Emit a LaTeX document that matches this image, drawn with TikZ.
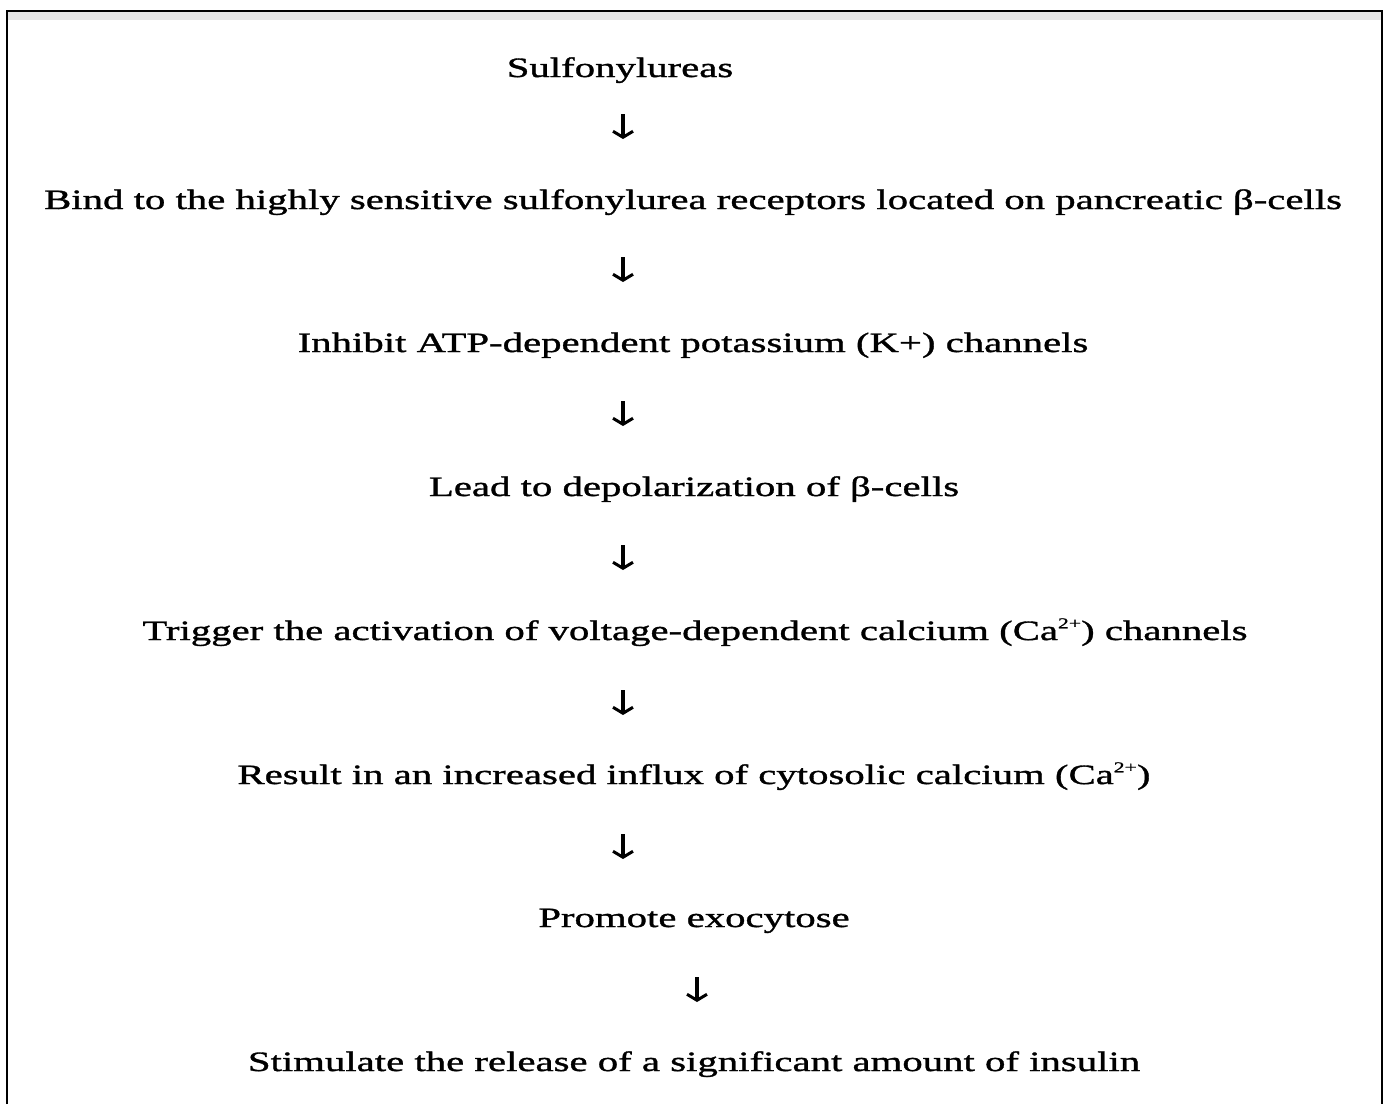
\documentclass[tikz,border=0pt]{standalone}
\usepackage{fontspec}
\setmainfont{Liberation Serif}[FakeStretch=1.456,FakeBold=1.2]
\usetikzlibrary{arrows.meta}
\tikzset{
  steptext/.style={anchor=base, inner sep=0pt, font=\fontsize{28}{30}\selectfont},
  flowarrow/.style={line width=3.2pt, -{Straight Barb[length=6pt,width=20pt,line width=3pt]}},
  frameline/.style={line width=2.6pt, black}
}
\newcommand{\caplus}{Ca\raisebox{0.42em}{\fontsize{15}{15}\selectfont 2+}}
\begin{document}
\begin{tikzpicture}[x=1pt,y=-1pt]
\useasboundingbox (0,0) rectangle (1387,1104);
\fill[white] (0,0) rectangle (1387,1104);
\fill[black!10] (7,11) rectangle (1382,20);
\draw[frameline] (7,1104) -- (7,11) -- (1382,11) -- (1382,1104);

\node[steptext] (s1) at (620,77) {Sulfonylureas};
\node[steptext] (s2) at (693,209) {Bind to the highly sensitive sulfonylurea receptors located on pancreatic β-cells};
\node[steptext] (s3) at (693,352) {Inhibit ATP-dependent potassium (K+) channels};
\node[steptext] (s4) at (694,496) {Lead to depolarization of β-cells};
\node[steptext] (s5) at (695,640) {Trigger the activation of voltage-dependent calcium (\caplus) channels};
\node[steptext] (s6) at (694,784) {Result in an increased influx of cytosolic calcium (\caplus)};
\node[steptext] (s7) at (694,927) {Promote exocytose};
\node[steptext] (s8) at (694,1071) {Stimulate the release of a significant amount of insulin};

\foreach \i/\x/\y in {1/623/127, 2/623/270, 3/623/414, 4/623/558, 5/623/703, 6/623/847, 7/697/990}{
  \coordinate (a\i s) at (\x,\y-13);
  \coordinate (a\i e) at (\x,\y+12);
  \draw[flowarrow] (a\i s) -- (a\i e);
}
\end{tikzpicture}
\end{document}
